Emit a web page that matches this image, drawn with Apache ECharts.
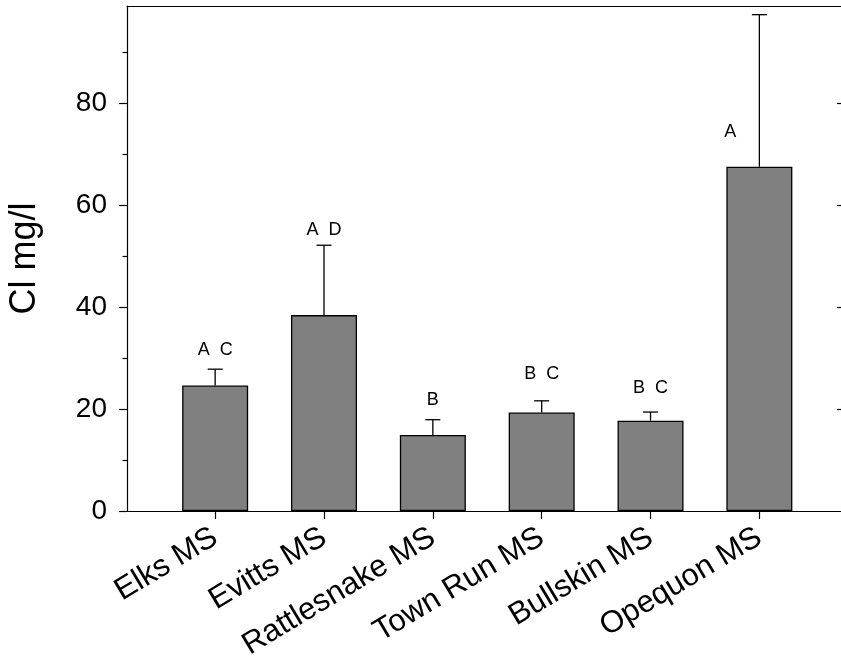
<!DOCTYPE html>
<html><head><meta charset="utf-8">
<script src="https://cdn.jsdelivr.net/npm/echarts@6/dist/echarts.min.js"></script>
<style>html,body{margin:0;padding:0;background:#fff}#c{width:841px;height:663px}</style>
</head><body><div id="c"></div>
<script>
const categories = ['Elks MS', 'Evitts MS', 'Rattlesnake MS', 'Town Run MS', 'Bullskin MS', 'Opequon MS'];
const means = [24.6, 38.4, 14.9, 19.3, 17.7, 67.5];
const errUpper = [27.8, 52.1, 17.9, 21.6, 19.4, 97.3];
const letters = ['A  C', 'A  D', 'B', 'B  C', 'B  C', 'A'];
const letterY = [31.6, 55.1, 21.8, 26.9, 24.1, 74.3];
const majorTicks = [0, 20, 40, 60, 80];
const minorTicks = [10, 30, 50, 70, 90];
const rightTicks = [20, 40, 60, 80];
const yMax = 99;

const FONT = '"Liberation Sans", Arial, Helvetica, sans-serif';
const pos = categories.map((_, i) => i + 1);
const letterDx = categories.map((_, i) => i === categories.length - 1 ? -29 : 0);
const xMin = 0.19, xMax = 6.75;

const chart = echarts.init(document.getElementById('c'), null, { renderer: 'canvas' });
const option = {
  animation: false,
  backgroundColor: '#fff',
  grid: { left: 127, right: 0, top: 6, bottom: 152, outerBoundsMode: 'none', containLabel: false },
  xAxis: [
    {
      type: 'value', min: xMin, max: xMax, position: 'bottom',
      splitLine: { show: false },
      axisLine: { onZero: false, lineStyle: { color: '#000', width: 1.2 } },
      axisTick: { customValues: pos, length: 8, lineStyle: { color: '#000', width: 1.2 } },
      axisLabel: {
        customValues: pos,
        formatter: v => categories[Math.round(v) - 1] || '',
        rotate: 31, fontSize: 31, color: '#000', fontFamily: FONT, margin: 24
      }
    },
    {
      type: 'value', min: xMin, max: xMax, position: 'top',
      splitLine: { show: false },
      axisLine: { onZero: false, lineStyle: { color: '#000', width: 1.2 } },
      axisTick: { show: false },
      axisLabel: { show: false }
    }
  ],
  yAxis: [
    {
      type: 'value', min: 0, max: yMax, position: 'left',
      name: 'Cl mg/l', nameLocation: 'middle', nameRotate: 90, nameGap: 84,
      nameTextStyle: { fontSize: 36, color: '#000', fontFamily: FONT },
      splitLine: { show: false },
      axisLine: { show: true, onZero: false, lineStyle: { color: '#000', width: 1.2 } },
      axisTick: { customValues: majorTicks, length: 8, lineStyle: { color: '#000', width: 1.2 } },
      axisLabel: { customValues: majorTicks, fontSize: 28, color: '#000', fontFamily: FONT, margin: 20 }
    },
    {
      type: 'value', min: 0, max: yMax, position: 'left',
      splitLine: { show: false },
      axisLine: { show: false },
      axisTick: { customValues: minorTicks, length: 4.5, lineStyle: { color: '#000', width: 1.2 } },
      axisLabel: { show: false }
    },
    {
      type: 'value', min: 0, max: yMax, position: 'right',
      splitLine: { show: false },
      axisLine: { show: false },
      axisTick: { customValues: rightTicks, inside: true, length: 4, lineStyle: { color: '#000', width: 1.2 } },
      axisLabel: { show: false }
    }
  ],
  series: [
    {
      type: 'bar', xAxisIndex: 0, yAxisIndex: 0, barWidth: 66,
      data: means.map((m, i) => [pos[i], m]),
      itemStyle: { color: '#808080', borderColor: '#000', borderWidth: 1.3 }
    },
    {
      type: 'custom', xAxisIndex: 0, yAxisIndex: 0, z: 1,
      data: means.map((m, i) => [pos[i], m, errUpper[i]]),
      renderItem: (params, api) => {
        const x = api.value(0);
        const p0 = api.coord([x, api.value(1)]);
        const p1 = api.coord([x, api.value(2)]);
        const half = 7.5;
        return {
          type: 'group', children: [
            { type: 'line', shape: { x1: p0[0], y1: p0[1], x2: p1[0], y2: p1[1] }, style: { stroke: '#000', lineWidth: 1.3 } },
            { type: 'line', shape: { x1: p1[0] - half, y1: p1[1], x2: p1[0] + half, y2: p1[1] }, style: { stroke: '#000', lineWidth: 1.3 } }
          ]
        };
      }
    },
    {
      type: 'custom', xAxisIndex: 0, yAxisIndex: 0, z: 3,
      data: letterY.map((y, i) => [pos[i], y]),
      renderItem: (params, api) => {
        const i = params.dataIndex;
        const p = api.coord([api.value(0), api.value(1)]);
        return {
          type: 'text',
          x: p[0] + letterDx[i], y: p[1],
          style: { text: letters[i], fill: '#000', font: '18px ' + FONT, textAlign: 'center', textVerticalAlign: 'middle' }
        };
      }
    }
  ]
};
chart.setOption(option);
</script>
</body></html>
